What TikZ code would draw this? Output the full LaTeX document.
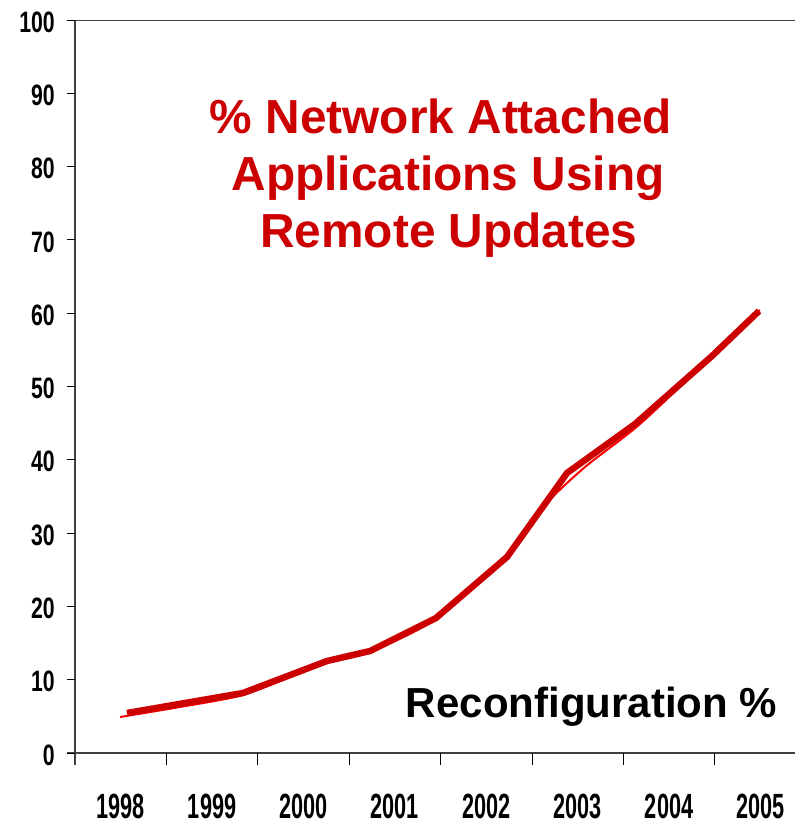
\documentclass[tikz,border=0pt]{standalone}
\usepackage{fontspec}
\setmainfont{Liberation Sans}
\definecolor{chartred}{HTML}{CC0000}
\definecolor{brightred}{HTML}{FF0000}
\definecolor{axisgray}{HTML}{404040}
\begin{document}
\begin{tikzpicture}[x=1pt,y=-1pt,
  ylab/.style={anchor=east,inner sep=0pt,font=\bfseries\fontsize{29.5}{30}\selectfont},
  xlab/.style={anchor=center,inner sep=0pt,font=\bfseries\fontsize{35}{35}\selectfont},
  titleline/.style={anchor=base,inner sep=0pt,text=chartred,font=\bfseries\fontsize{47.8}{50}\selectfont},
  tickmark/.style={draw=black,line width=1pt},
  axisline/.style={draw=axisgray},
  series/.style={draw=chartred,line width=6.5pt},
  fitcurve/.style={draw=brightred,line width=2pt}]
\useasboundingbox (0,0) rectangle (795,823);

% frame lines of the plot area
\draw[axisline,line width=1pt] (67,20) -- (795,20);
\draw[axisline,line width=1.5pt] (67,753) -- (795,753);
\draw[axisline,line width=2pt] (75,20) -- (75,765);

% value axis: ticks and labels
\foreach \v in {0,10,...,100}{
  \draw[tickmark] (67,{753-7.33*\v}) -- (75,{753-7.33*\v});
  \node[ylab] (y\v) at (55,{755-7.33*\v}) {\scalebox{0.72}[1]{\v}};
}

% category axis: ticks and year labels
\foreach \i in {1,...,7}{
  \draw[tickmark] ({75+91.4*\i},753) -- ({75+91.4*\i},765);
}
\foreach \yr [count=\i from 0] in {1998,1999,2000,2001,2002,2003,2004,2005}{
  \node[xlab] (x\yr) at ({120.7+91.4*\i},806) {\scalebox{0.62}[1]{\yr}};
}

% smoothed trend underneath the data line
\draw[fitcurve] plot[smooth,tension=0.45] coordinates {
  (120,717) (180,707) (243,695) (300,673) (330,662) (370,652)
  (436,619) (505,558) (545,505) (585,467) (640,424) (712,356) (760,310)};

% data series
\draw[series] (127,713) -- (243,693) -- (327,661) -- (370,651) -- (436,618)
  -- (507,557) -- (567,473) -- (635,424) -- (712,356) -- (759,311);

% chart title
\node[titleline] (t1) at (441,133) {\% Network Attached};
\node[titleline] (t2) at (448,190) {Applications Using};
\node[titleline] (t3) at (449,247) {Remote Updates};

% series caption
\node[anchor=base,inner sep=0pt,font=\bfseries\fontsize{42}{44}\selectfont] (cap) at (591.5,717) {Reconfiguration \%};
\end{tikzpicture}
\end{document}
